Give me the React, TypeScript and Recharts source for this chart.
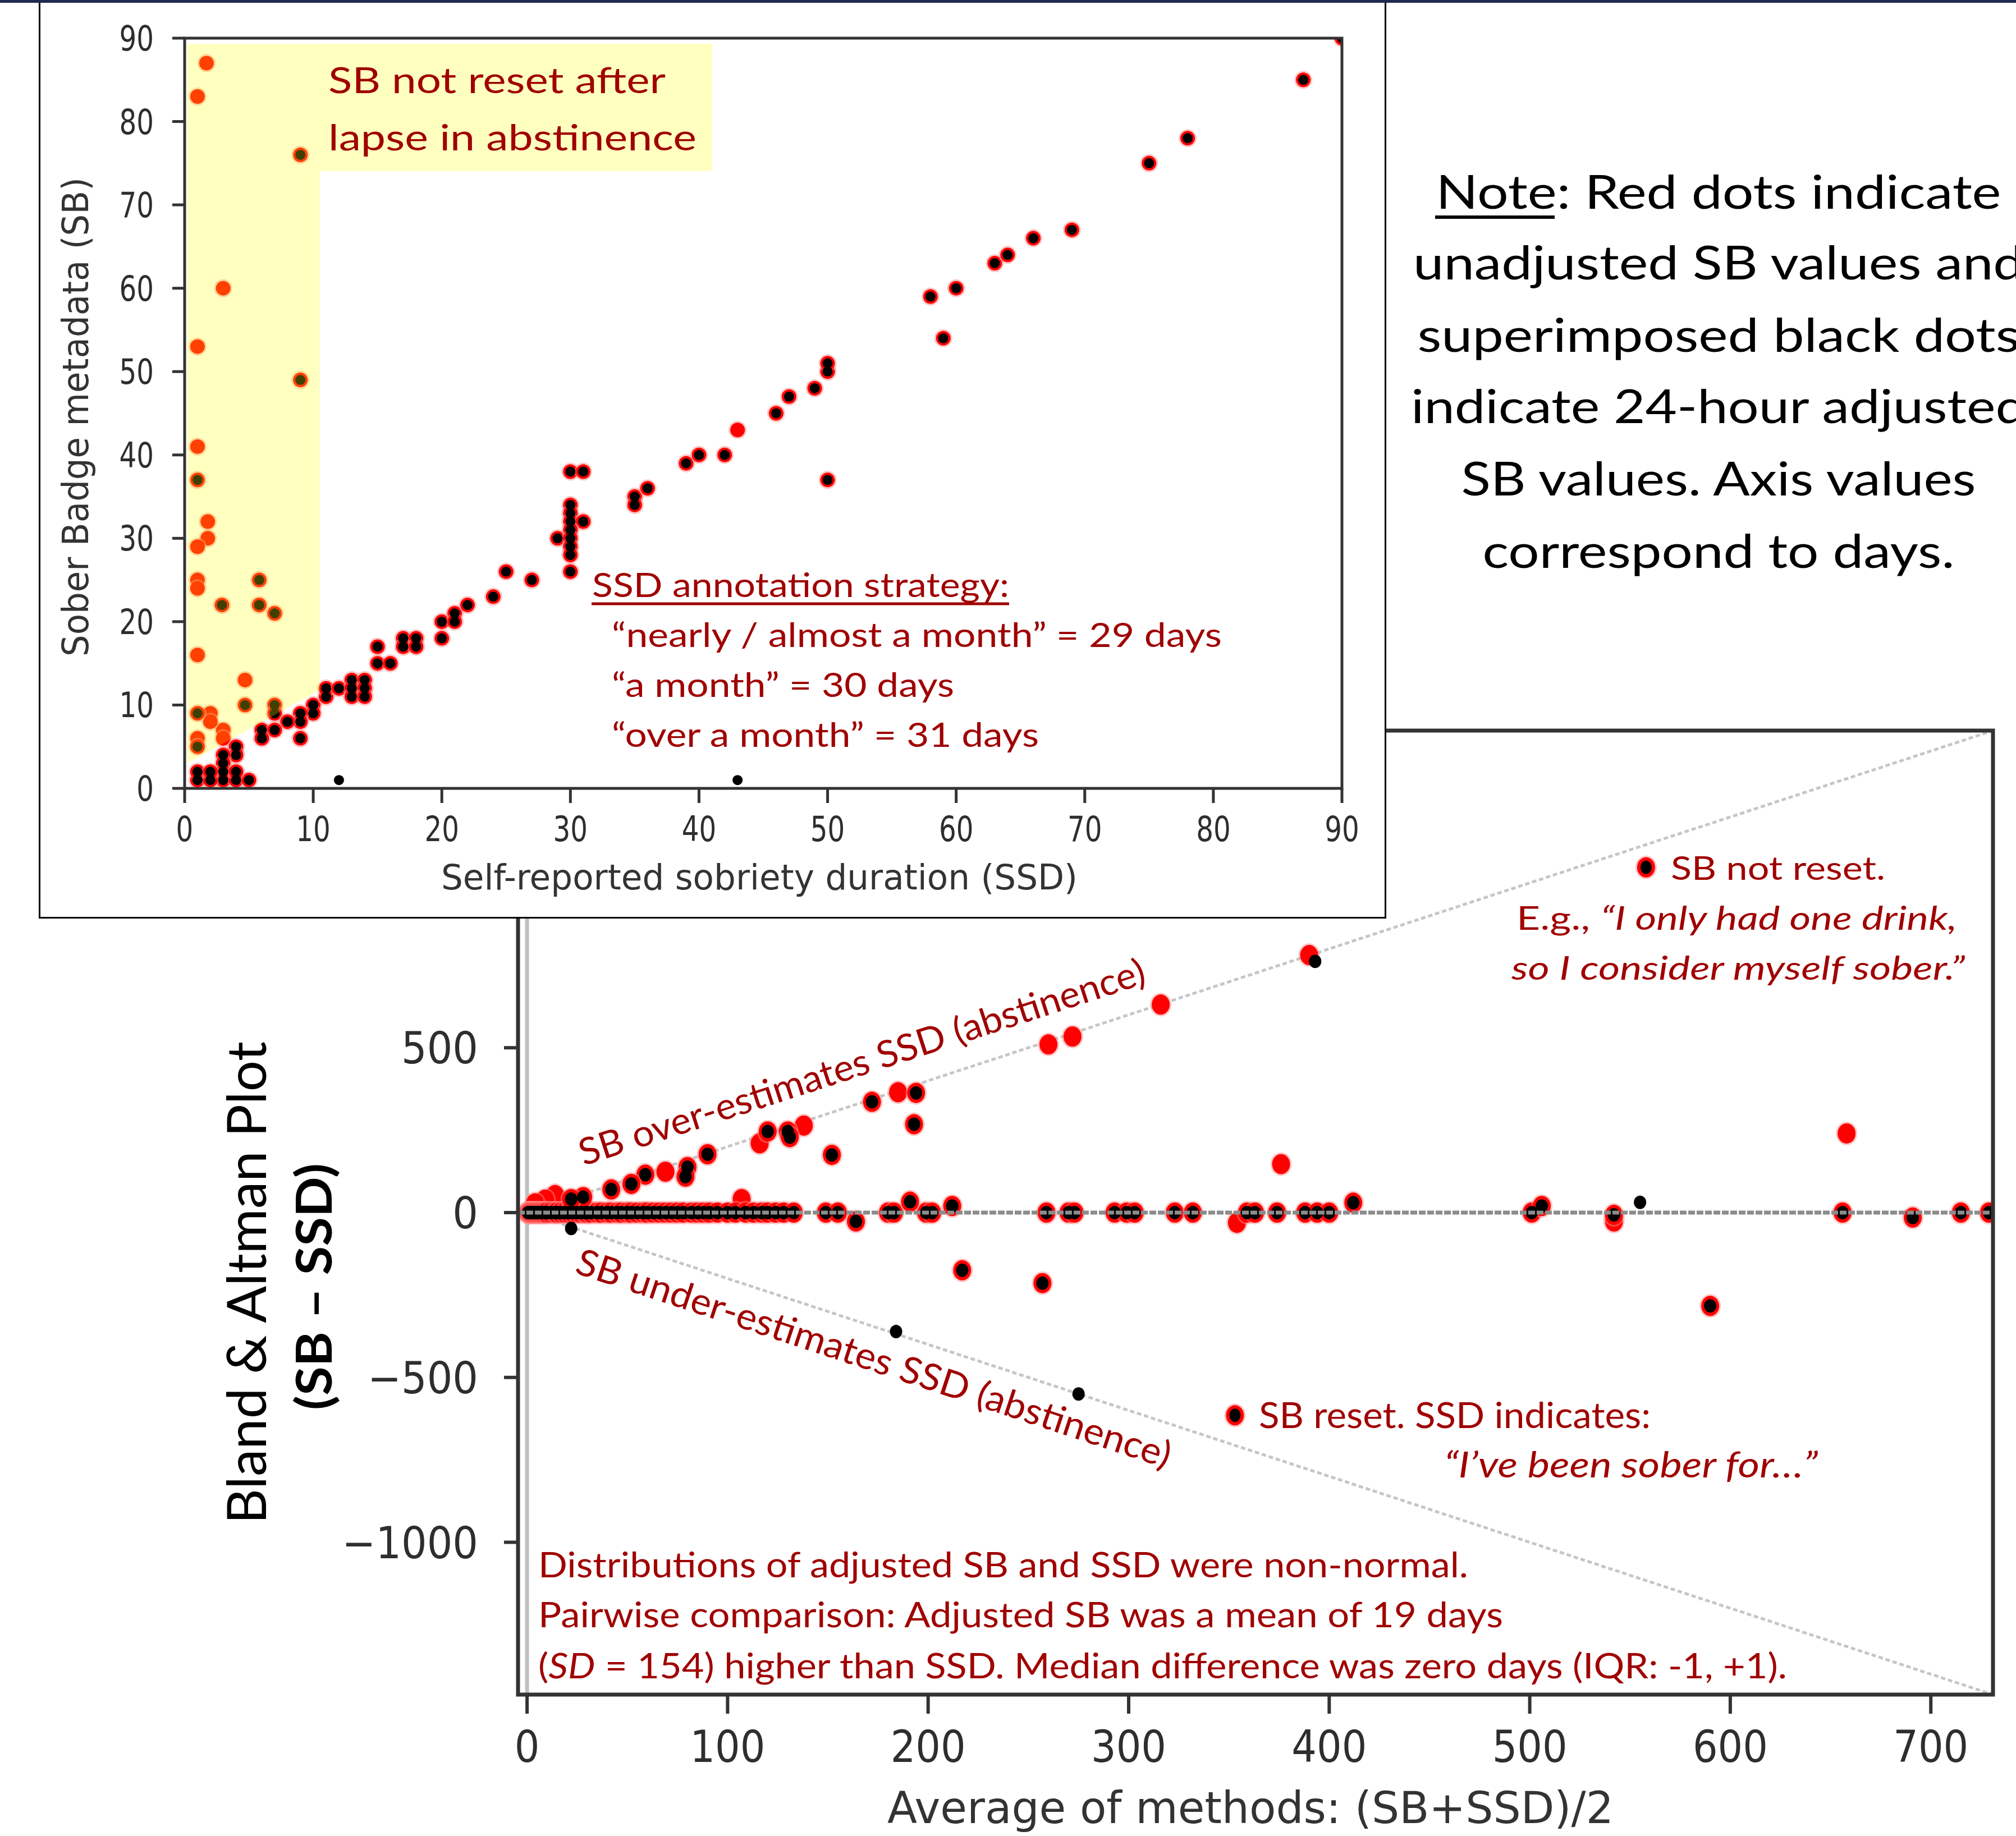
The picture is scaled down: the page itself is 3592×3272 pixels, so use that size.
import React from "react";
import {
  ScatterChart,
  ComposedChart,
  Scatter,
  Area,
  XAxis,
  YAxis,
  ReferenceLine,
  ReferenceArea,
  ReferenceDot,
} from "recharts";

const DARK_RED = "#a00000";
const TICK_GREY = "#2e2e2e";
const SANS = "Lato, 'Open Sans', sans-serif";
const MPL = "'DejaVu Sans', sans-serif";

// ---- inset: SSD (x) vs SB metadata (y), days ----
const insetXTicks = [0, 10, 20, 30, 40, 50, 60, 70, 80, 90];
const insetYTicks = [0, 10, 20, 30, 40, 50, 60, 70, 80, 90];

// red + black superimposed (adjusted == unadjusted)
const insetBoth = [
  [9, 76], [9, 49], [1, 37], [2.9, 22], [5.8, 25], [5.8, 22], [7, 21], [4.7, 10], [7, 10],
  [1, 9], [1, 5], [6, 7], [7, 9], [10, 10], [10, 9], [9, 9], [9, 8], [9, 6], [8, 8], [7, 7],
  [6, 6], [4, 5], [4, 4], [3, 4], [3, 3], [3, 2], [3, 1], [1, 1], [1, 2], [2, 1], [2, 2],
  [4, 1], [5, 1], [4, 2], [11, 11], [11, 12], [12, 12], [13, 13], [13, 12], [13, 11],
  [14, 13], [14, 12], [14, 11], [15, 17], [15, 15], [16, 15], [17, 18], [17, 17], [18, 18],
  [18, 17], [20, 20], [20, 18], [21, 21], [21, 20], [22, 22], [24, 23], [25, 26], [27, 25],
  [29, 30], [30, 38], [31, 38], [30, 34], [30, 33], [30, 32], [31, 32], [30, 31], [30, 30],
  [30, 29], [30, 28], [30, 26], [35, 35], [35, 34], [36, 36], [39, 39], [40, 40], [42, 40],
  [46, 45], [47, 47], [49, 48], [50, 50], [50, 51], [50, 37], [58, 59], [60, 60], [59, 54],
  [63, 63], [64, 64], [66, 66], [69, 67], [75, 75], [78, 78], [87, 85], [90, 90],
];
// unadjusted SB only
const insetRedOnly = [
  [1.7, 87], [1, 83], [3, 60], [1, 53], [1, 41], [1.8, 32], [1.8, 30], [1, 29], [1, 25],
  [1, 24], [1, 16], [4.7, 13], [2, 9], [3, 7], [3, 6], [1, 6], [2, 8], [43, 43],
];
// adjusted SB only
const insetBlackOnly = [[12, 1], [43, 1]];

// shaded "SB not reset" zone (lower edge, upper edge)
const lapseZone = [
  { x: 0.2, band: [3.0, 89.3] },
  { x: 10.5, band: [11.8, 89.3] },
];

// ---- Bland & Altman: average (x) vs SB - SSD (y) ----
const baXTicks = [0, 100, 200, 300, 400, 500, 600, 700];
const baYTicks = [-1000, -500, 0, 500, 1000];

const baZeroRow = [
  [0.5, 0], [1, 0], [1.5, 0], [2, 0], [3, 0], [4, 0], [5, 0], [6, 0], [7, 0], [8, 0], [9, 0],
  [10, 0], [12, 0], [14, 0], [15, 0], [17, 0], [19, 0], [21, 0], [23, 0], [25, 0], [27, 0],
  [29, 0], [30, 0], [32, 0], [35, 0], [37, 0], [40, 0], [42, 0], [45, 0], [47, 0], [50, 0],
  [52, 0], [55, 0], [58, 0], [60, 0], [63, 0], [66, 0], [69, 0], [72, 0], [75, 0], [78, 0],
  [82, 0], [85, 0], [88, 0], [91, 0], [95, 0], [100, 0], [104, 0], [109, 0], [113, 0],
  [117, 0], [120, 0], [124, 0], [128, 0], [133, 0], [149, 0], [155, 0], [180, 0], [183, 0],
  [199, 0], [202, 0], [259, 0], [270, 0], [273, 0], [293, 0], [299, 0], [303, 0], [323, 0],
  [332, 0], [359, 0], [363, 0], [374, 0], [388, 0], [394, 0], [400, 0], [501, 0], [656, 0],
  [715, 0], [729, 0],
];
const baBothOff = [
  [194, 363], [172, 336], [193, 268], [152, 175], [130, 246], [131, 229], [120, 246],
  [90, 177], [80, 138], [79, 109], [59, 115], [52, 87], [42, 70], [28, 47], [22, 41],
  [217, -175], [257, -214], [590, -283], [191, 33], [212, 20], [164, -27], [412, 30],
  [506, 20], [542, -7], [691, -15],
];
const baRedOnly = [
  [390, 781], [316, 631], [272, 534], [260, 510], [185, 365], [138, 264], [116, 210],
  [69, 124], [14, 53], [9, 39], [4, 28], [107, 41], [376, 147], [658, 240], [354, -31],
  [542, -27],
];
const baBlackOnly = [[393, 762], [184, -361], [275, -550], [22, -48], [555, 31]];

const toPts = (arr: number[][]) => arr.map(([x, y]) => ({ x, y }));

const insetRed = toPts([...insetRedOnly, ...insetBoth]);
const insetBlack = toPts([...insetBoth, ...insetBlackOnly]);
const baRed = toPts([...baRedOnly, ...baZeroRow, ...baBothOff]);
const baBlack = toPts([...baZeroRow, ...baBothOff, ...baBlackOnly]);

const makeRed = (rx: number, ry: number) => (p: any) => (
  <g>
    <ellipse cx={p.cx} cy={p.cy} rx={rx + 3} ry={ry + 3} fill="#ff8a8a" opacity={0.5} />
    <ellipse cx={p.cx} cy={p.cy} rx={rx} ry={ry} fill="#ff0000" />
  </g>
);
const makeBlack = (rx: number, ry: number) => (p: any) => (
  <ellipse cx={p.cx} cy={p.cy} rx={rx} ry={ry} fill="#000" />
);

const markerDot = (p: any) => (
  <g>
    <ellipse cx={p.cx} cy={p.cy} rx={19} ry={21} fill="#ff8a8a" opacity={0.5} />
    <ellipse cx={p.cx} cy={p.cy} rx={16} ry={18} fill="#ff0000" />
    <ellipse cx={p.cx} cy={p.cy} rx={10} ry={12} fill="#000" />
  </g>
);

const fmtMinus = (v: number) => (v < 0 ? `\u2212${Math.abs(v)}` : `${v}`);

const InsetXTick = (p: any) => (
  <text transform={`translate(${p.x},${p.y + 66}) scale(0.78,1)`} textAnchor="middle"
    fontFamily={MPL} fontSize={62} fill={TICK_GREY}>{p.payload.value}</text>
);
const InsetYTick = (p: any) => (
  <text transform={`translate(${p.x - 31},${p.y + 22}) scale(0.78,1)`} textAnchor="end"
    fontFamily={MPL} fontSize={62} fill={TICK_GREY}>{p.payload.value}</text>
);
const BaXTick = (p: any) => (
  <text transform={`translate(${p.x},${p.y + 84}) scale(0.9,1)`} textAnchor="middle"
    fontFamily={MPL} fontSize={78} fill={TICK_GREY}>{p.payload.value}</text>
);
const BaYTick = (p: any) => (
  <text transform={`translate(${p.x - 44},${p.y + 28}) scale(0.92,1)`} textAnchor="end"
    fontFamily={MPL} fontSize={78} fill={TICK_GREY}>{fmtMinus(p.payload.value)}</text>
);

type TxtProps = {
  x: number; y: number; w?: number; size: number; color?: string; anchor?: string;
  family?: string; italic?: boolean; bold?: boolean; rotate?: number; children: any;
};
const Txt = ({ x, y, w, size, color = DARK_RED, anchor = "start", family = SANS, italic, bold, rotate = 0, children }: TxtProps) => (
  <text
    transform={`translate(${x},${y}) rotate(${rotate})`}
    textAnchor={anchor as any}
    fontFamily={family}
    fontSize={size}
    fontStyle={italic ? "italic" : "normal"}
    fontWeight={bold ? 700 : 400}
    fill={color}
    textLength={w}
    lengthAdjust="spacingAndGlyphs"
  >
    {children}
  </text>
);

const App = () => {
  return (
    <div style={{ position: "absolute", left: 0, top: 0, width: 3592, height: 3272, background: "#fff", overflow: "hidden" }}>
      {/* Bland & Altman plot */}
      <div style={{ position: "absolute", left: 0, top: 0, zIndex: 1 }}>
        <ScatterChart width={3592} height={3272} margin={{ top: 1302, left: 773, right: 41, bottom: 102 }}>
          <XAxis type="number" dataKey="x" domain={[-4.5, 731]} ticks={baXTicks} allowDataOverflow
            interval={0} height={150} axisLine={false} tickSize={34}
            tickLine={{ stroke: "#333", strokeWidth: 6 }} tick={BaXTick} />
          <YAxis type="number" dataKey="y" domain={[-1462, 1462]} ticks={baYTicks} allowDataOverflow
            interval={0} width={150} axisLine={false} tickSize={25}
            tickLine={{ stroke: "#333", strokeWidth: 6 }} tick={BaYTick} />
          <ReferenceLine x={0} stroke="#c0c0c0" strokeWidth={7} ifOverflow="visible" />
          <ReferenceLine segment={[{ x: 0, y: 0 }, { x: 731, y: 1462 }]} stroke="#c6c6c6"
            strokeWidth={5} strokeDasharray="8 5" ifOverflow="visible" />
          <ReferenceLine segment={[{ x: 0, y: 0 }, { x: 731, y: -1462 }]} stroke="#c6c6c6"
            strokeWidth={5} strokeDasharray="8 5" ifOverflow="visible" />
          <Scatter data={baRed} shape={makeRed(16, 18)} isAnimationActive={false} />
          <Scatter data={baBlack} shape={makeBlack(11, 12)} isAnimationActive={false} />
          <ReferenceLine y={0} stroke="#8c8c8c" strokeWidth={7} strokeDasharray="12 3"
            ifOverflow="visible" zIndex={700} />
          <ReferenceDot x={558} y={1047} shape={markerDot} ifOverflow="visible" zIndex={700} />
          <ReferenceDot x={353} y={-615} shape={markerDot} ifOverflow="visible" zIndex={700} />
          <ReferenceArea x1={-4.5} x2={731} y1={-1462} y2={1462} fill="none" stroke="#333"
            strokeWidth={7} ifOverflow="visible" zIndex={800} />
        </ScatterChart>
      </div>

      {/* inset scatter */}
      <div style={{ position: "absolute", left: 69, top: 0, width: 2401, height: 1637, boxSizing: "border-box",
        border: "3px solid #000", background: "#fff", zIndex: 2 }}>
        <div style={{ position: "absolute", left: 0, top: 0 }}>
          <ComposedChart width={2395} height={1631} data={lapseZone} margin={{ top: 65, left: 57, right: 76, bottom: 79 }}>
            <XAxis type="number" dataKey="x" domain={[0, 90]} ticks={insetXTicks} allowDataOverflow
              interval={0} height={150} axisLine={false} tickSize={26}
              tickLine={{ stroke: "#333", strokeWidth: 5 }} tick={InsetXTick} />
            <YAxis type="number" dataKey="y" domain={[0, 90]} ticks={insetYTicks} allowDataOverflow
              interval={0} width={200} axisLine={false} tickSize={22}
              tickLine={{ stroke: "#333", strokeWidth: 5 }} tick={InsetYTick} />
            <Scatter data={insetRed} shape={makeRed(13, 13)} isAnimationActive={false} />
            <Scatter data={insetBlack} shape={makeBlack(9, 9)} isAnimationActive={false} />
            <Area dataKey="band" type="linear" fill="#ffff00" fillOpacity={0.25} stroke="none"
              dot={false} activeDot={false} isAnimationActive={false} zIndex={700} />
            <ReferenceArea x1={0} x2={90} y1={0} y2={90} fill="none" stroke="#333"
              strokeWidth={5} ifOverflow="visible" zIndex={800} />
          </ComposedChart>
        </div>
      </div>

      {/* text layer */}
      <svg width={3592} height={3272} style={{ position: "absolute", left: 0, top: 0, zIndex: 3, pointerEvents: "none" }}>
        {/* inset annotations */}
        <rect x={566} y={78} width={703} height={227} fill="#ffffc0" />
        <Txt x={585} y={166} w={601} size={64}>SB not reset after</Txt>
        <Txt x={585} y={268} w={656} size={64}>lapse in abstinence</Txt>
        <Txt x={1055} y={1064} w={743} size={60}>SSD annotation strategy:</Txt>
        <line x1={1054} x2={1798} y1={1076} y2={1076} stroke={DARK_RED} strokeWidth={5} />
        <Txt x={1090} y={1153} w={1087} size={60}>{"\u201Cnearly / almost a month\u201D = 29 days"}</Txt>
        <Txt x={1090} y={1242} w={610} size={60}>{"\u201Ca month\u201D = 30 days"}</Txt>
        <Txt x={1090} y={1331} w={761} size={60}>{"\u201Cover a month\u201D = 31 days"}</Txt>
        <Txt x={157} y={743} w={854} size={64} rotate={-90} anchor="middle" family={MPL} color="#333">
          Sober Badge metadata (SB)
        </Txt>
        <Txt x={786} y={1585} w={1134} size={62} family={MPL} color="#333">
          Self-reported sobriety duration (SSD)
        </Txt>

        {/* Bland & Altman annotations */}
        <Txt x={474} y={2286} w={860} size={96} rotate={-90} anchor="middle" color="#000">
          {"Bland & Altman Plot"}
        </Txt>
        <Txt x={591} y={2293} w={440} size={88} rotate={-90} anchor="middle" color="#000" bold>
          {"(SB \u2013 SSD)"}
        </Txt>
        <Txt x={1581} y={3249} w={1294} size={78} family={MPL} color="#333">
          Average of methods: (SB+SSD)/2
        </Txt>
        <Txt x={1040} y={2078} w={1057} size={66} rotate={-18}>SB over-estimates SSD (abstinence)</Txt>
        <Txt x={1022} y={2268} w={1112} size={66} rotate={18.3}>SB under-estimates SSD (abstinence)</Txt>

        <Txt x={2977} y={1568} w={382} size={58}>SB not reset.</Txt>
        <text transform="translate(2702,1657)" fontFamily={SANS} fontSize={58} fill={DARK_RED}
          textLength={785} lengthAdjust="spacingAndGlyphs">
          {"E.g., "}<tspan fontStyle="italic">{"\u201CI only had one drink,"}</tspan>
        </text>
        <Txt x={2693} y={1746} w={808} size={58} italic>{"so I consider myself sober.\u201D"}</Txt>

        <Txt x={2243} y={2545} w={698} size={64}>SB reset. SSD indicates:</Txt>
        <Txt x={2573} y={2633} w={666} size={64} italic>{"\u201CI\u2019ve been sober for\u2026\u201D"}</Txt>

        <Txt x={959} y={2811} w={1657} size={62}>Distributions of adjusted SB and SSD were non-normal.</Txt>
        <Txt x={959} y={2900} w={1719} size={62}>Pairwise comparison: Adjusted SB was a mean of 19 days</Txt>
        <text transform="translate(959,2991)" fontFamily={SANS} fontSize={62} fill={DARK_RED}
          textLength={2225} lengthAdjust="spacingAndGlyphs">
          {"("}<tspan fontStyle="italic">SD</tspan>{" = 154) higher than SSD. Median difference was zero days (IQR: -1, +1)."}
        </text>

        {/* note */}
        <Txt x={3062} y={372} w={1007} size={84} anchor="middle" color="#000">Note: Red dots indicate</Txt>
        <line x1={2557} x2={2770} y1={387} y2={387} stroke="#000" strokeWidth={6} />
        <Txt x={3062} y={498} w={1088} size={84} anchor="middle" color="#000">unadjusted SB values and</Txt>
        <Txt x={3062} y={627} w={1073} size={84} anchor="middle" color="#000">superimposed black dots</Txt>
        <Txt x={3062} y={754} w={1096} size={84} anchor="middle" color="#000">indicate 24-hour adjusted</Txt>
        <Txt x={3062} y={883} w={917} size={84} anchor="middle" color="#000">SB values. Axis values</Txt>
        <Txt x={3062} y={1012} w={841} size={84} anchor="middle" color="#000">correspond to days.</Txt>
      </svg>

      <div style={{ position: "absolute", left: 0, top: 0, width: 3592, height: 5, background: "#1d2b4f", zIndex: 4 }} />
    </div>
  );
};

export default App;
